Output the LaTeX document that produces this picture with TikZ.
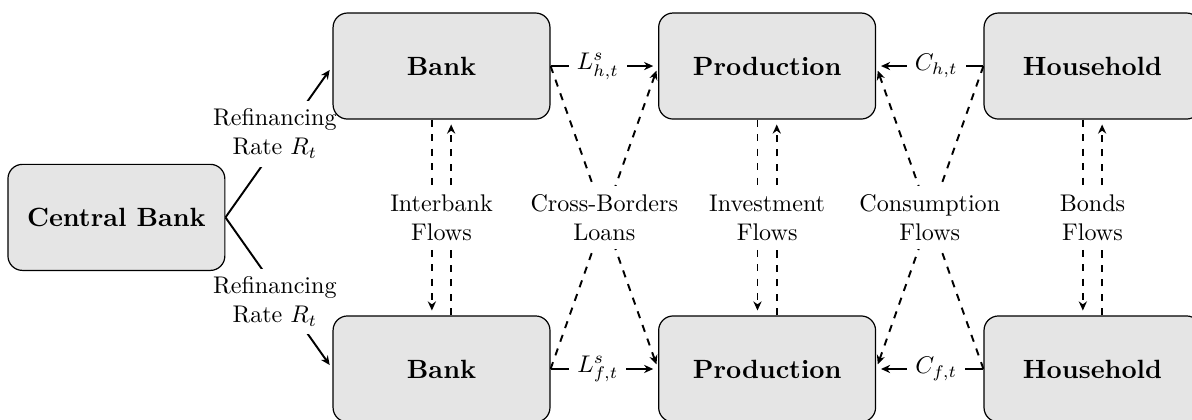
\documentclass[tikz,border=0pt]{standalone}
\usetikzlibrary{arrows.meta,backgrounds}
\begin{document}
\begin{tikzpicture}[x=1pt,y=1pt,
  box/.style={draw, line width=0.5pt, fill=gray!20, rounded corners=6pt,
    minimum width=90pt, minimum height=44pt,
    font=\fontsize{10.95}{13.6}\selectfont\bfseries},
  conn/.style={line width=0.8pt, -{Stealth[length=3.8pt,width=3.4pt]}, shorten >=2pt},
  dconn/.style={conn, dashed},
  lbl/.style={fill=white, align=center, font=\fontsize{10}{12}\selectfont}]
\useasboundingbox (0,0) rectangle (494.6,-173.9);
\node[box] (cb) at (48.3,-90.2) {Central Bank};
\node[box] (b1) at (183.2,-27.4) {Bank};
\node[box] (b2) at (183.2,-153.1) {Bank};
\node[box] (p1) at (318.3,-27.4) {Production};
\node[box] (p2) at (318.3,-153.1) {Production};
\node[box] (h1) at (453.3,-27.4) {Household};
\node[box] (h2) at (453.3,-153.1) {Household};
\begin{pgfonlayer}{background}
% central bank
\draw[conn] (cb.east) -- node[lbl, xshift=-1.7pt, yshift=3.3pt] {Refinancing\\Rate $R_t$} (b1.west);
\draw[conn] (cb.east) -- node[lbl, xshift=-1.7pt, yshift=-3.5pt] {Refinancing\\Rate $R_t$} (b2.west);
% horizontal
\draw[conn] (b1.east) -- node[lbl, pos=0.44] {$L^s_{h,t}$} (p1.west);
\draw[conn] (b2.east) -- node[lbl, pos=0.44] {$L^s_{f,t}$} (p2.west);
\draw[conn] (h1.west) -- node[lbl, pos=0.44] {$C_{h,t}$} (p1.east);
\draw[conn] (h2.west) -- node[lbl, pos=0.44] {$C_{f,t}$} (p2.east);
% vertical pairs
\draw[dconn] ([xshift=-4pt]b1.south) -- ([xshift=-4pt]b2.north);
\draw[dconn] ([xshift=4pt]b2.north) -- ([xshift=4pt]b1.south);
\path (b1.south) -- node[lbl] {Interbank\\Flows} (b2.north);
\draw[dconn] ([xshift=-4pt]p1.south) -- ([xshift=-4pt]p2.north);
\draw[dconn] ([xshift=4pt]p2.north) -- ([xshift=4pt]p1.south);
\path (p1.south) -- node[lbl] {Investment\\Flows} (p2.north);
\draw[dconn] ([xshift=-4pt]h1.south) -- ([xshift=-4pt]h2.north);
\draw[dconn] ([xshift=4pt]h2.north) -- ([xshift=4pt]h1.south);
\path (h1.south) -- node[lbl] {Bonds\\Flows} (h2.north);
% crosses
\draw[dconn] (b1.east) -- (p2.west);
\draw[dconn] (b2.east) -- (p1.west);
\path (b1.east) -- node[lbl] {Cross-Borders\\Loans} (p2.west);
\draw[dconn] (h1.west) -- (p2.east);
\draw[dconn] (h2.west) -- (p1.east);
\path (h1.west) -- node[lbl] {Consumption\\Flows} (p2.east);
\end{pgfonlayer}
\end{tikzpicture}
\end{document}
